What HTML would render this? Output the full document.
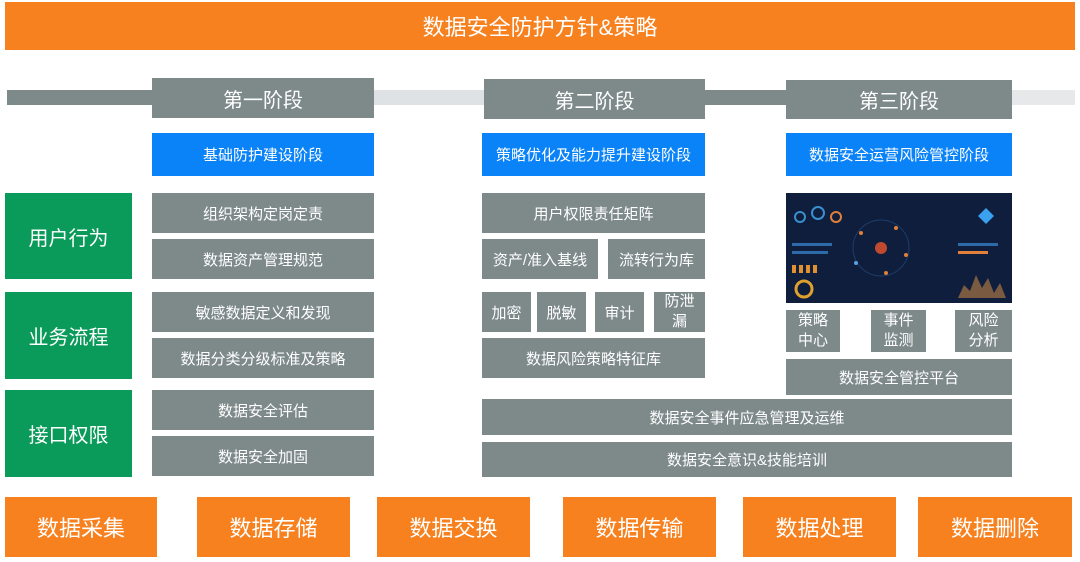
<!DOCTYPE html>
<html><head><meta charset="utf-8"><style>
body{margin:0;width:1080px;height:562px;background:#fff;position:relative;overflow:hidden;font-family:"Liberation Sans","Noto Sans CJK SC",sans-serif}
.b{position:absolute;display:flex;align-items:center;justify-content:center;text-align:center;color:#fff;box-sizing:border-box}
.g{background:#7e8a8a;font-size:15px}
.o{background:#f7811f}
.gr{background:#0a9a5a;font-size:20px}
.bl{background:#0a82f8;font-size:15px}
.s{font-size:20px}
.bar{position:absolute;top:90px;height:15px}
</style></head><body>
<div class="b o" style="left:5px;top:2px;width:1070px;height:48px;font-size:22px">数据安全防护方针&amp;策略</div>

<div class="bar" style="left:7px;width:150px;background:#7e8a8a"></div>
<div class="bar" style="left:374px;width:110px;background:#dfe2e4"></div>
<div class="bar" style="left:705px;width:81px;background:#7e8a8a"></div>
<div class="bar" style="left:1012px;width:63px;background:#e6e8ea"></div>
<div class="b g s" style="left:152px;top:78px;width:222px;height:40px">第一阶段</div>
<div class="b g s" style="left:484px;top:79px;width:221px;height:40px">第二阶段</div>
<div class="b g s" style="left:786px;top:80px;width:226px;height:39px">第三阶段</div>

<div class="b bl" style="left:152px;top:133px;width:222px;height:43px">基础防护建设阶段</div>
<div class="b bl" style="left:482px;top:133px;width:223px;height:43px">策略优化及能力提升建设阶段</div>
<div class="b bl" style="left:786px;top:133px;width:226px;height:43px">数据安全运营风险管控阶段</div>

<div class="b gr" style="left:5px;top:193px;width:127px;height:86px">用户行为</div>
<div class="b gr" style="left:5px;top:292px;width:127px;height:87px">业务流程</div>
<div class="b gr" style="left:5px;top:390px;width:127px;height:87px">接口权限</div>

<div class="b g" style="left:152px;top:193px;width:222px;height:40px">组织架构定岗定责</div>
<div class="b g" style="left:152px;top:239px;width:222px;height:40px">数据资产管理规范</div>
<div class="b g" style="left:152px;top:292px;width:222px;height:40px">敏感数据定义和发现</div>
<div class="b g" style="left:152px;top:338px;width:222px;height:40px">数据分类分级标准及策略</div>
<div class="b g" style="left:152px;top:390px;width:222px;height:40px">数据安全评估</div>
<div class="b g" style="left:152px;top:436px;width:222px;height:40px">数据安全加固</div>

<div class="b g" style="left:482px;top:193px;width:223px;height:40px">用户权限责任矩阵</div>
<div class="b g" style="left:482px;top:239px;width:116px;height:40px">资产/准入基线</div>
<div class="b g" style="left:608px;top:239px;width:97px;height:40px">流转行为库</div>
<div class="b g" style="left:482px;top:292px;width:49px;height:40px">加密</div>
<div class="b g" style="left:537px;top:292px;width:49px;height:40px">脱敏</div>
<div class="b g" style="left:595px;top:292px;width:49px;height:40px">审计</div>
<div class="b g" style="left:654px;top:292px;width:51px;height:40px;line-height:20px">防泄<br>漏</div>
<div class="b g" style="left:482px;top:338px;width:223px;height:40px">数据风险策略特征库</div>

<div class="b" style="left:786px;top:193px;width:226px;height:110px;background:#0f1e3c;overflow:hidden">
<svg width="226" height="110">
<rect x="0" y="0" width="226" height="110" fill="#0f1e3c"/>
<circle cx="14" cy="24" r="5" fill="none" stroke="#3a8fd0" stroke-width="2"/>
<circle cx="32" cy="20" r="6" fill="none" stroke="#3a8fd0" stroke-width="2"/>
<circle cx="50" cy="24" r="5" fill="none" stroke="#e0803a" stroke-width="2"/>
<rect x="6" y="50" width="40" height="3" fill="#2d6aa8"/>
<rect x="6" y="58" width="36" height="3" fill="#2d6aa8"/>
<rect x="6" y="72" width="4" height="8" fill="#e09030"/><rect x="13" y="72" width="4" height="8" fill="#e09030"/><rect x="20" y="72" width="4" height="8" fill="#e09030"/><rect x="27" y="72" width="4" height="8" fill="#e09030"/>
<circle cx="18" cy="96" r="8" fill="none" stroke="#e0a030" stroke-width="3"/>
<circle cx="95" cy="55" r="28" fill="none" stroke="#1e3e6c"/>
<circle cx="95" cy="55" r="6" fill="#c04a30"/>
<circle cx="75" cy="40" r="2" fill="#e0803a"/><circle cx="110" cy="35" r="2" fill="#e0803a"/><circle cx="120" cy="62" r="2" fill="#e0803a"/><circle cx="70" cy="70" r="2" fill="#5aa0e0"/><circle cx="100" cy="80" r="2" fill="#e0803a"/>
<polygon points="200,15 208,23 200,31 192,23" fill="#3aa0f0"/>
<rect x="172" y="50" width="40" height="3" fill="#2d6aa8"/>
<rect x="172" y="58" width="30" height="3" fill="#e0803a"/>
<path d="M172 105 L178 92 L184 98 L190 82 L196 95 L202 85 L208 100 L214 90 L220 105 Z" fill="#7a5a40"/>
</svg></div>
<div class="b g" style="left:786px;top:310px;width:54px;height:42px;line-height:20px">策略<br>中心</div>
<div class="b g" style="left:871px;top:310px;width:55px;height:42px;line-height:20px">事件<br>监测</div>
<div class="b g" style="left:955px;top:310px;width:57px;height:42px;line-height:20px">风险<br>分析</div>
<div class="b g" style="left:786px;top:359px;width:226px;height:36px">数据安全管控平台</div>

<div class="b g" style="left:482px;top:399px;width:530px;height:36px">数据安全事件应急管理及运维</div>
<div class="b g" style="left:482px;top:442px;width:530px;height:35px">数据安全意识&amp;技能培训</div>

<div class="b o s" style="left:5px;top:497px;width:152px;height:60px;font-size:22px">数据采集</div>
<div class="b o s" style="left:197px;top:497px;width:153px;height:60px;font-size:22px">数据存储</div>
<div class="b o s" style="left:377px;top:497px;width:153px;height:60px;font-size:22px">数据交换</div>
<div class="b o s" style="left:563px;top:497px;width:153px;height:60px;font-size:22px">数据传输</div>
<div class="b o s" style="left:743px;top:497px;width:153px;height:60px;font-size:22px">数据处理</div>
<div class="b o s" style="left:918px;top:497px;width:154px;height:60px;font-size:22px">数据删除</div>
</body></html>
